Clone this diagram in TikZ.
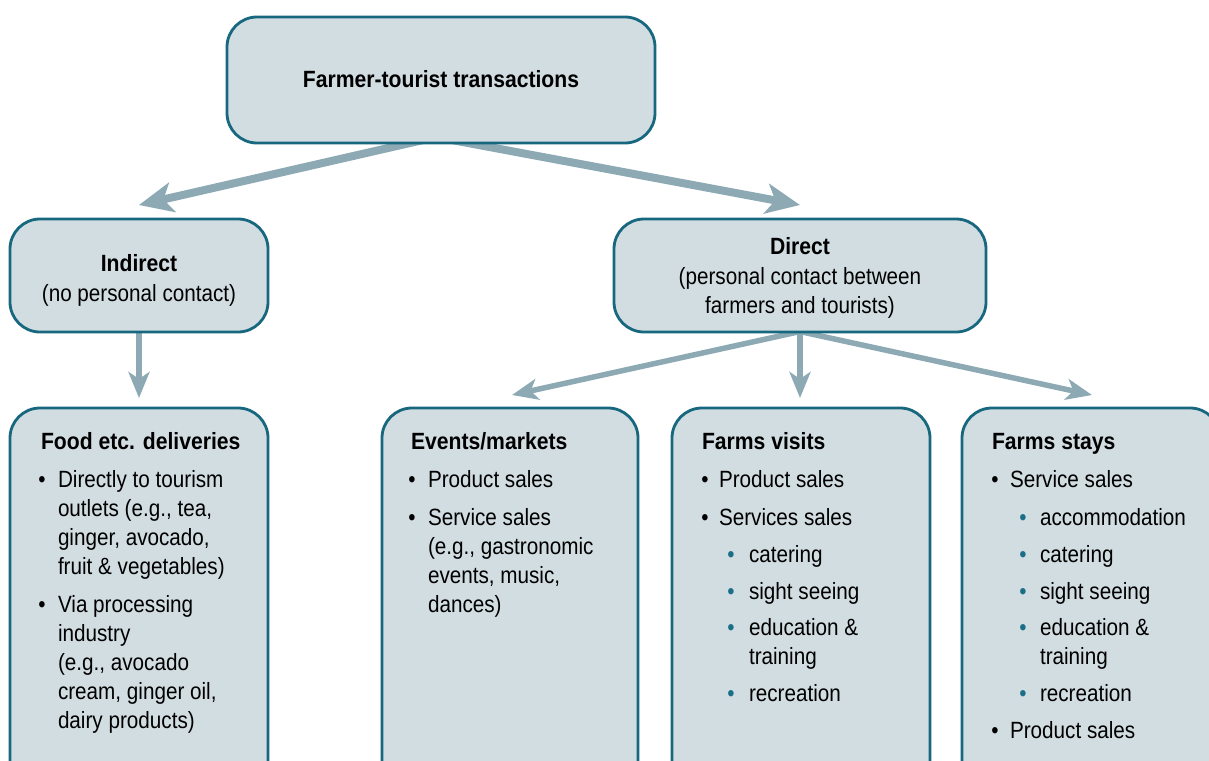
\documentclass[tikz,border=0pt]{standalone}
\usepackage{fontspec}
\setmainfont{Liberation Sans}[FakeStretch=0.88,BoldFeatures={FakeStretch=0.9}]
\usetikzlibrary{arrows.meta}
\definecolor{boxfill}{HTML}{D2DDE2}
\definecolor{boxline}{HTML}{17677F}
\definecolor{arrowc}{HTML}{8CA9B4}
\definecolor{subbul}{HTML}{1B6E88}
\pgfdeclarelayer{bg}
\pgfsetlayers{bg,main}
\begin{document}
\begin{tikzpicture}[x=1pt,y=-1pt,
  box/.style={draw=boxline,line width=2.8pt,fill=boxfill,rounded corners=30pt,anchor=north west,inner sep=0pt,outer sep=0pt},
  tx/.style={anchor=base west,inner sep=0pt,outer sep=0pt},
  ct/.style={anchor=base,inner sep=0pt,outer sep=0pt},
  bt/.style={anchor=base west,inner sep=0pt,outer sep=0pt,font=\bfseries},
  bk/.style={anchor=base,inner sep=0pt,outer sep=0pt,text=black},
  tb/.style={anchor=base,inner sep=0pt,outer sep=0pt,text=subbul},
  bigarr/.style={draw=arrowc,line width=8pt,-{Stealth[length=34pt,width=30pt,inset=9pt]}},
  smallarr/.style={draw=arrowc,line width=5.5pt,-{Stealth[length=26pt,width=21pt,inset=7pt]}}]
\fontsize{23.5}{29}\selectfont
\useasboundingbox (0,0) rectangle (1209,760);

% boxes
\node[box,minimum width=428pt,minimum height=126pt] (top) at (227,17) {};
\node[box,minimum width=258pt,minimum height=113pt] (ind) at (10,219) {};
\node[box,minimum width=372pt,minimum height=113pt] (dir) at (614,219) {};
\node[box,minimum width=258pt,minimum height=382pt] (food) at (10,408) {};
\node[box,minimum width=256pt,minimum height=382pt] (events) at (382,408) {};
\node[box,minimum width=258pt,minimum height=382pt] (visits) at (672,408) {};
\node[box,minimum width=258pt,minimum height=382pt] (stays) at (962,408) {};

% arrow tips
\coordinate (tipL) at (139,205);
\coordinate (tipR) at (800,205);
\coordinate (tipI) at (139,398);
\coordinate (tipD1) at (512,395);
\coordinate (tipD2) at (800,398);
\coordinate (tipD3) at (1092,395);

\begin{pgfonlayer}{bg}
\draw[bigarr] ([xshift=4pt,yshift=8pt]top.south) -- (tipL);
\draw[bigarr] ([xshift=-16pt,yshift=8pt]top.south) -- (tipR);
\draw[smallarr] ([yshift=8pt]ind.south) -- (tipI);
\draw[smallarr] ([yshift=0.5pt]dir.south) -- (tipD1);
\draw[smallarr] ([yshift=8pt]dir.south) -- (tipD2);
\draw[smallarr] ([yshift=0.5pt]dir.south) -- (tipD3);
\end{pgfonlayer}

% top texts
\node[ct,font=\bfseries] (ttop) at (441,88) {Farmer-tourist transactions};
\node[ct,font=\bfseries] (tind1) at (139,271) {Indirect};
\node[ct] (tind2) at (139,301) {(no personal contact)};
\node[ct,font=\bfseries] (tdir1) at (800,254) {Direct};
\node[ct] (tdir2) at (800,284) {(personal contact between};
\node[ct] (tdir3) at (800,313) {farmers and tourists)};

% food
\node[bt] (fT) at (41,449) {Food etc. deliveries};
\node[bk] (fb1) at (42,487) {•};
\node[tx] (f1) at (58,487) {Directly to tourism};
\node[tx] (f2) at (58,516) {outlets (e.g., tea,};
\node[tx] (f3) at (58,545) {ginger, avocado,};
\node[tx] (f4) at (58,574) {fruit \& vegetables)};
\node[bk] (fb2) at (42,612) {•};
\node[tx] (f5) at (58,612) {Via processing};
\node[tx] (f6) at (58,641) {industry};
\node[tx] (f7) at (58,670) {(e.g., avocado};
\node[tx] (f8) at (58,699) {cream, ginger oil,};
\node[tx] (f9) at (58,728) {dairy products)};

% events
\node[bt] (eT) at (411,449) {Events/markets};
\node[bk] (eb1) at (412,487) {•};
\node[tx] (e1) at (428,487) {Product sales};
\node[bk] (eb2) at (412,525) {•};
\node[tx] (e2) at (428,525) {Service sales};
\node[tx] (e3) at (428,554) {(e.g., gastronomic};
\node[tx] (e4) at (428,583) {events, music,};
\node[tx] (e5) at (428,612) {dances)};

% farm visits
\node[bt] (vT) at (702,449) {Farms visits};
\node[bk] (vb1) at (705,487) {•};
\node[tx] (v1) at (719,487) {Product sales};
\node[bk] (vb2) at (705,525) {•};
\node[tx] (v2) at (719,525) {Services sales};
\node[tb] (vs1) at (731,562) {•};
\node[tx] (v3) at (749,562) {catering};
\node[tb] (vs2) at (731,599) {•};
\node[tx] (v4) at (749,599) {sight seeing};
\node[tb] (vs3) at (731,635) {•};
\node[tx] (v5) at (749,635) {education \&};
\node[tx] (v6) at (749,664) {training};
\node[tb] (vs4) at (731,701) {•};
\node[tx] (v7) at (749,701) {recreation};

% farm stays
\node[bt] (sT) at (992,449) {Farms stays};
\node[bk] (sb1) at (995,487) {•};
\node[tx] (s1) at (1010,487) {Service sales};
\node[tb] (ss1) at (1023,525) {•};
\node[tx] (s2) at (1040,525) {accommodation};
\node[tb] (ss2) at (1023,562) {•};
\node[tx] (s3) at (1040,562) {catering};
\node[tb] (ss3) at (1023,599) {•};
\node[tx] (s4) at (1040,599) {sight seeing};
\node[tb] (ss4) at (1023,635) {•};
\node[tx] (s5) at (1040,635) {education \&};
\node[tx] (s6) at (1040,664) {training};
\node[tb] (ss5) at (1023,701) {•};
\node[tx] (s7) at (1040,701) {recreation};
\node[bk] (sb2) at (995,738) {•};
\node[tx] (s8) at (1010,738) {Product sales};
\end{tikzpicture}
\end{document}
